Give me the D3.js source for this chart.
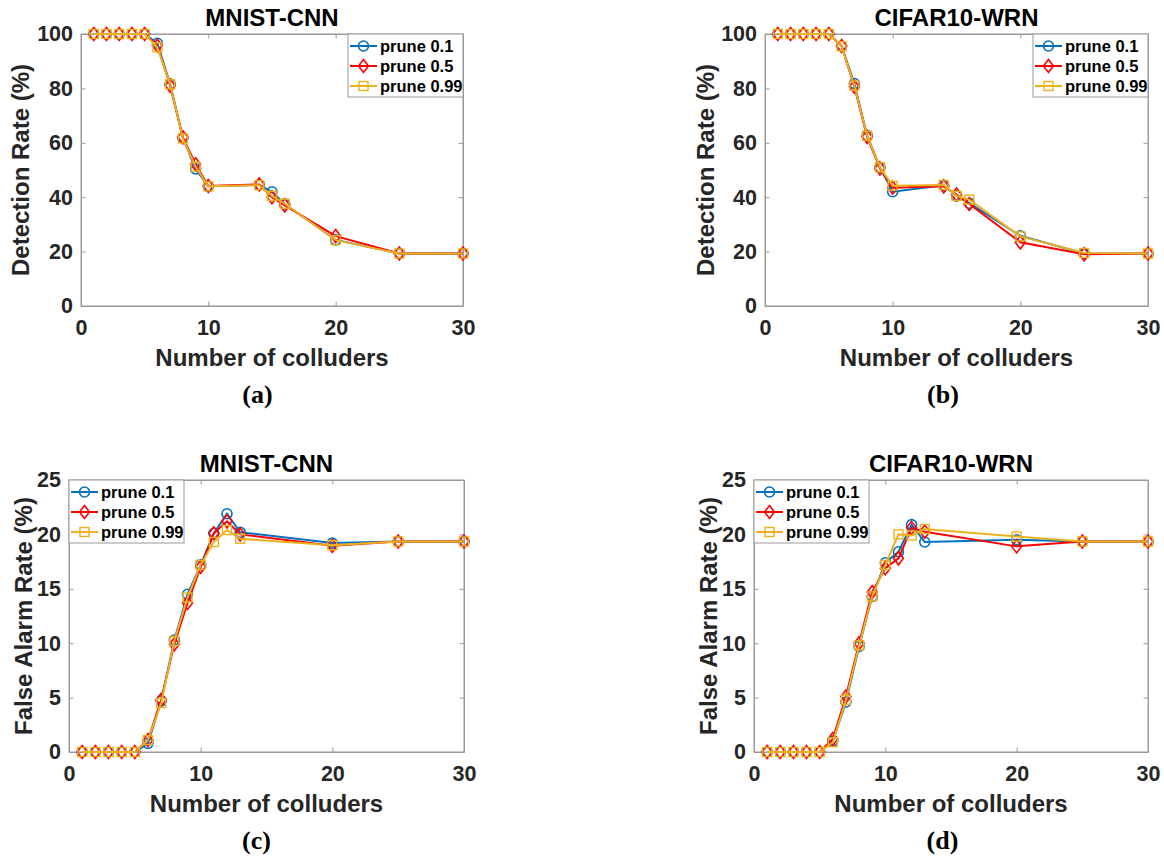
<!DOCTYPE html>
<html>
<head>
<meta charset="utf-8">
<script src="https://cdn.jsdelivr.net/npm/d3@7"></script>
<style>
  body { margin: 0; background: #fff; }
  svg { display: block; }
  text { font-family: Arial, "Liberation Sans", Helvetica, sans-serif; font-weight: bold; }
  text.caption { font-family: "Times New Roman", "Liberation Serif", serif; }
</style>
</head>
<body>
<svg id="fig" width="1164" height="857"></svg>
<script>
// colluder counts
const xTop = [1,2,3,4,5,6,7,8,9,10,14,15,16,20,25,30];
const xBottom = [1,2,3,4,5,6,7,8,9,10,11,12,13,20,25,30];
const seriesNames = ["prune 0.1", "prune 0.5", "prune 0.99"];

// (a) MNIST-CNN detection rate
const detMnist01  = [100,100,100,100,100,96.6,81.6,61.8,50.4,44.0,44.5,42.0,37.5,24.3,19.3,19.3];
const detMnist05  = [100,100,100,100,100,95.7,81.0,62.0,52.1,44.1,44.7,40.0,37.0,25.7,19.3,19.3];
const detMnist099 = [100,100,100,100,100,95.1,81.5,61.6,51.2,44.0,44.4,40.5,37.6,24.2,19.3,19.3];

// (b) CIFAR10-WRN detection rate
const detCifar01  = [100,100,100,100,100,95.6,81.8,62.7,51.0,42.0,44.4,40.5,37.8,25.8,19.3,19.3];
const detCifar05  = [100,100,100,100,100,95.6,80.6,62.2,50.6,43.5,44.0,41.0,37.5,23.4,19.0,19.3];
const detCifar099 = [100,100,100,100,100,95.5,81.0,62.6,51.0,44.2,44.5,40.5,39.1,25.6,19.5,19.3];

// (c) MNIST-CNN false alarm rate
const faMnist01  = [0,0,0,0,0,0.8,4.7,10.3,14.5,17.2,20.1,21.9,20.2,19.2,19.35,19.35];
const faMnist05  = [0,0,0,0,0,1.1,4.8,9.9,13.7,17.0,20.1,21.2,20.0,18.95,19.35,19.35];
const faMnist099 = [0,0,0,0,0,1.1,4.5,10.2,14.2,17.2,19.3,20.4,19.6,19.0,19.35,19.35];

// (d) CIFAR10-WRN false alarm rate
const faCifar01  = [0,0,0,0,0,1.0,4.6,9.7,14.3,17.4,18.4,20.9,19.3,19.5,19.35,19.35];
const faCifar05  = [0,0,0,0,0,1.2,5.1,10.0,14.7,16.9,17.8,20.6,20.25,18.9,19.35,19.35];
const faCifar099 = [0,0,0,0,0,0.9,4.8,9.8,14.3,17.2,20.0,19.9,20.5,19.8,19.35,19.35];

const xTicks = [0,10,20,30];
const detTicks = [0,20,40,60,80,100];
const faTicks = [0,5,10,15,20,25];

const colors = ["#0072BD", "#FF0000", "#EDB120"];
const markers = ["circle", "diamond", "square"];

const panels = [
    {title: "MNIST-CNN", caption: "(a)", x: xTop, ys: [detMnist01, detMnist05, detMnist099],
     yMax: 100, yTicks: detTicks, ylabel: "Detection Rate (%)",
     left: 81, right: 463, top: 34, bottom: 306, ylabX: 28.5, capX: 257.5, legend: "ne"},
    {title: "CIFAR10-WRN", caption: "(b)", x: xTop, ys: [detCifar01, detCifar05, detCifar099],
     yMax: 100, yTicks: detTicks, ylabel: "Detection Rate (%)",
     left: 765, right: 1148, top: 34, bottom: 306, ylabX: 714, capX: 943, legend: "ne"},
    {title: "MNIST-CNN", caption: "(c)", x: xBottom, ys: [faMnist01, faMnist05, faMnist099],
     yMax: 25, yTicks: faTicks, ylabel: "False Alarm Rate (%)",
     left: 69, right: 464, top: 480, bottom: 752, ylabX: 31.5, capX: 256.5, legend: "nw"},
    {title: "CIFAR10-WRN", caption: "(d)", x: xBottom, ys: [faCifar01, faCifar05, faCifar099],
     yMax: 25, yTicks: faTicks, ylabel: "False Alarm Rate (%)",
     left: 754, right: 1148, top: 480, bottom: 752, ylabX: 717, capX: 942.5, legend: "nw"}
];

const svg = d3.select("#fig");

function drawMarker(g, type, cx, cy, color) {
    if (type === "circle") {
        g.append("circle").attr("cx", cx).attr("cy", cy).attr("r", 5)
            .attr("fill", "none").attr("stroke", color).attr("stroke-width", 1.6);
    } else if (type === "diamond") {
        g.append("path")
            .attr("d", `M${cx},${cy-6.5}L${cx+5},${cy}L${cx},${cy+6.5}L${cx-5},${cy}Z`)
            .attr("fill", "none").attr("stroke", color).attr("stroke-width", 1.6);
    } else {
        g.append("rect").attr("x", cx-4.5).attr("y", cy-4.5).attr("width", 9).attr("height", 9)
            .attr("fill", "none").attr("stroke", color).attr("stroke-width", 1.4);
    }
}

function drawPanel(p) {
    const x = d3.scaleLinear().domain([0, 30]).range([p.left, p.right]);
    const y = d3.scaleLinear().domain([0, p.yMax]).range([p.bottom, p.top]);
    const g = svg.append("g");

    // axes box + ticks
    g.append("rect").attr("x", p.left).attr("y", p.top)
        .attr("width", p.right - p.left).attr("height", p.bottom - p.top)
        .attr("fill", "#fff").attr("stroke", "#999").attr("stroke-width", 1);

    const xa = g.append("g").attr("transform", `translate(0,${p.bottom})`)
        .call(d3.axisBottom(x).tickValues(xTicks).tickSizeInner(-4.5).tickSizeOuter(0).tickPadding(14));
    const ya = g.append("g").attr("transform", `translate(${p.left},0)`)
        .call(d3.axisLeft(y).tickValues(p.yTicks).tickSizeInner(-4.5).tickSizeOuter(0).tickPadding(8));
    g.append("g").attr("transform", `translate(0,${p.top})`)
        .call(d3.axisTop(x).tickValues(xTicks).tickSizeInner(-4.5).tickSizeOuter(0).tickFormat(""));
    g.append("g").attr("transform", `translate(${p.right},0)`)
        .call(d3.axisRight(y).tickValues(p.yTicks).tickSizeInner(-4.5).tickSizeOuter(0).tickFormat(""));
    g.selectAll(".domain").attr("stroke", "#999");
    g.selectAll(".tick line").attr("stroke", "#999");
    [xa, ya].forEach(a => a.selectAll("text")
        .attr("font-size", 21.5).attr("fill", "#262626")
        .attr("font-family", null));

    // series lines then markers
    p.ys.forEach((vals, i) => {
        const pts = p.x.map((d, j) => [d, vals[j]]);
        const line = d3.line().x(d => x(d[0])).y(d => y(d[1]));
        const sg = g.append("g");
        sg.append("path").datum(pts).attr("d", line)
            .attr("fill", "none").attr("stroke", colors[i]).attr("stroke-width", 2);
        pts.forEach(d => drawMarker(sg, markers[i], x(d[0]), y(d[1]), colors[i]));
    });

    // title
    g.append("text").attr("x", (p.left + p.right) / 2).attr("y", p.top - 8)
        .attr("text-anchor", "middle").attr("font-size", 24).attr("fill", "#000")
        .text(p.title);
    // x label
    g.append("text").attr("x", (p.left + p.right) / 2).attr("y", p.bottom + 60)
        .attr("text-anchor", "middle").attr("font-size", 24).attr("fill", "#262626")
        .text("Number of colluders");
    // y label
    g.append("text").attr("transform", `translate(${p.ylabX},${(p.top + p.bottom) / 2}) rotate(-90)`)
        .attr("text-anchor", "middle").attr("font-size", 24).attr("fill", "#262626")
        .text(p.ylabel);
    // caption
    g.append("text").attr("class", "caption").attr("x", p.capX).attr("y", p.bottom + 97)
        .attr("text-anchor", "middle").attr("font-size", 26).attr("fill", "#000")
        .text(p.caption);

    // legend
    const lw = 115, lh = 63;
    const lx = p.legend === "ne" ? p.right - lw : p.left;
    const ly = p.top;
    const lg = g.append("g").attr("transform", `translate(${lx},${ly})`);
    lg.append("rect").attr("width", lw).attr("height", lh)
        .attr("fill", "#fff").attr("stroke", "#999").attr("stroke-width", 1);
    seriesNames.forEach((name, i) => {
        const ry = 12 + i * 20;
        lg.append("line").attr("x1", 2).attr("x2", 29).attr("y1", ry).attr("y2", ry)
            .attr("stroke", colors[i]).attr("stroke-width", 2);
        drawMarker(lg, markers[i], 15.5, ry, colors[i]);
        lg.append("text").attr("x", 32).attr("y", ry).attr("dy", "0.36em")
            .attr("font-size", 16.5).attr("fill", "#000").text(name);
    });
}

panels.forEach(drawPanel);
</script>
</body>
</html>
